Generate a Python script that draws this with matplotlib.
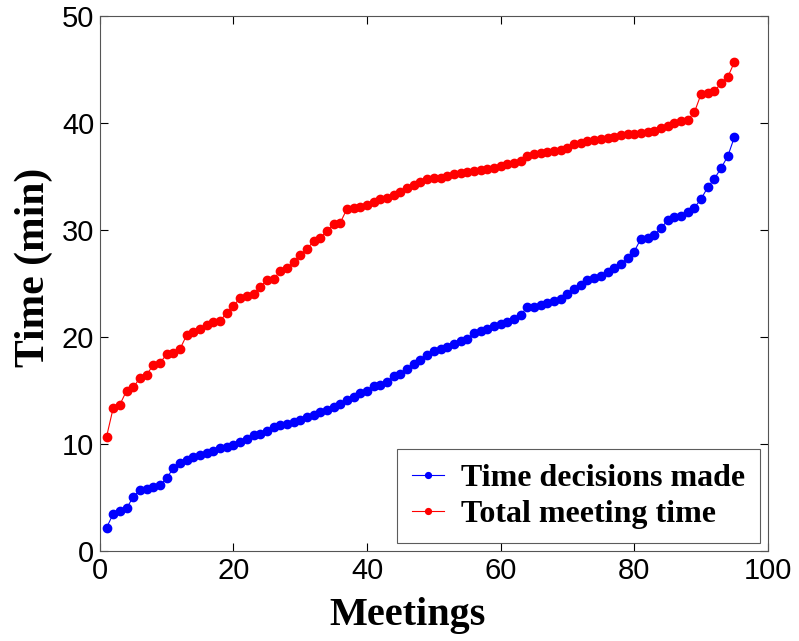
import matplotlib
matplotlib.use("Agg")
import matplotlib.pyplot as plt
import numpy as np

# Tiempo en que se toman las decisiones (min), por reunión ordenada.
decisiones = [2.2, 3.5, 3.8, 4.0, 5.1, 5.7, 5.8, 6.0, 6.2, 6.8,
              7.8, 8.2, 8.5, 8.8, 9.0, 9.2, 9.4, 9.6, 9.7, 9.9,
              10.2, 10.5, 10.9, 11.0, 11.2, 11.6, 11.8, 11.9, 12.1, 12.3,
              12.5, 12.7, 13.0, 13.2, 13.5, 13.8, 14.1, 14.4, 14.8, 15.0,
              15.4, 15.5, 15.8, 16.4, 16.6, 17.0, 17.5, 17.9, 18.3, 18.7,
              18.9, 19.1, 19.4, 19.6, 19.8, 20.4, 20.6, 20.8, 21.0, 21.2,
              21.4, 21.7, 22.1, 22.8, 22.8, 23.0, 23.2, 23.4, 23.6, 24.0,
              24.5, 24.9, 25.3, 25.5, 25.7, 26.1, 26.5, 26.8, 27.4, 28.0,
              29.2, 29.3, 29.5, 30.2, 30.9, 31.2, 31.3, 31.7, 32.1, 32.9,
              34.0, 34.8, 35.8, 36.9, 38.7]

# Duración total de la reunión (min).
total = [10.7, 13.4, 13.7, 15.0, 15.3, 16.2, 16.5, 17.4, 17.6, 18.4,
         18.5, 18.9, 20.2, 20.5, 20.8, 21.1, 21.4, 21.5, 22.3, 22.9,
         23.7, 23.8, 24.0, 24.7, 25.3, 25.4, 26.2, 26.5, 27.0, 27.7,
         28.2, 29.0, 29.3, 29.9, 30.6, 30.7, 32.0, 32.1, 32.2, 32.3,
         32.6, 32.9, 33.0, 33.3, 33.6, 33.9, 34.2, 34.5, 34.8, 34.9,
         34.9, 35.1, 35.2, 35.3, 35.4, 35.5, 35.6, 35.7, 35.8, 36.0,
         36.2, 36.3, 36.5, 36.9, 37.1, 37.2, 37.3, 37.4, 37.5, 37.7,
         38.0, 38.1, 38.3, 38.4, 38.5, 38.6, 38.7, 38.9, 39.0, 39.0,
         39.1, 39.2, 39.3, 39.5, 39.7, 40.0, 40.2, 40.3, 41.0, 42.7,
         42.8, 43.0, 43.7, 44.3, 45.7]

reuniones = np.arange(1, len(decisiones) + 1)

fig = plt.figure(figsize=(7.99, 6.41), dpi=100)
ax = fig.add_axes([0.125, 0.140, 0.836, 0.835])

ax.plot(reuniones, decisiones, color="blue", marker="o", markersize=6,
        linewidth=0.8, label="Time decisions made")
ax.plot(reuniones, total, color="red", marker="o", markersize=6,
        linewidth=0.8, label="Total meeting time")

ax.set_xlim(0, 100)
ax.set_ylim(0, 50)
ax.set_xticks([0, 20, 40, 60, 80, 100])
ax.set_yticks([0, 10, 20, 30, 40, 50])
ax.tick_params(direction="in", top=True, right=True, labelsize=21, length=6, pad=4)
for lbl in ax.get_xticklabels() + ax.get_yticklabels():
    lbl.set_family("Liberation Sans")
for s in ax.spines.values():
    s.set_color("#555555")

ax.set_xlabel("Meetings", family="Liberation Serif", fontweight="bold", fontsize=29)
ax.xaxis.set_label_coords(0.46, -0.085)
ax.set_ylabel("Time (min)", family="Liberation Serif", fontweight="bold", fontsize=30)
ax.yaxis.set_label_coords(-0.07, 0.53)

leg = ax.legend(loc="lower right", prop={"family": "Liberation Serif", "weight": "bold", "size": 23},
                fancybox=False, edgecolor="#333333", handlelength=1.0, handletextpad=0.55,
                markerscale=0.7, labelspacing=0.2, borderpad=0.45, borderaxespad=0.25)
leg.get_frame().set_linewidth(0.8)

plt.savefig("out.png", dpi=100)
